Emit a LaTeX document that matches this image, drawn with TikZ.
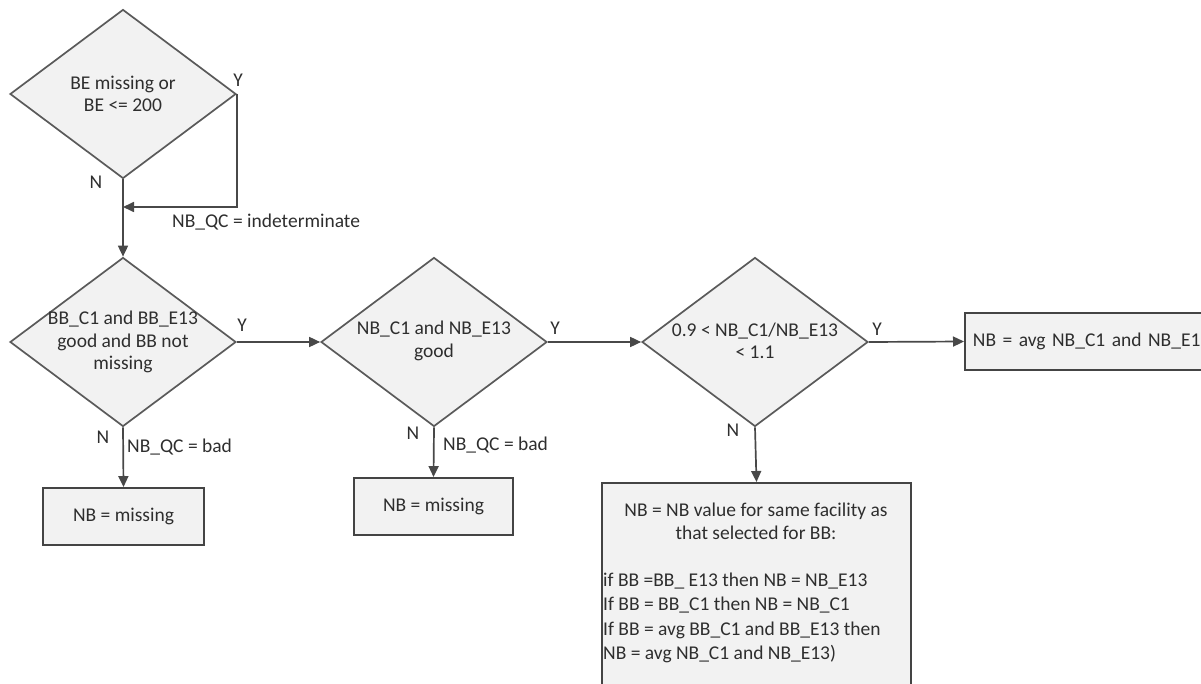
\documentclass[tikz,border=0pt]{standalone}
\usepackage{fontspec}
\setmainfont{Carlito}
\usetikzlibrary{shapes.geometric,arrows.meta}
\definecolor{ln}{HTML}{5A5A5A}
\definecolor{fl}{HTML}{F2F2F2}
\definecolor{tx}{HTML}{2E2E2E}
\begin{document}
\begin{tikzpicture}[x=1pt,y=-1pt,
  every node/.style={font=\fontsize{19.5}{22.5}\selectfont, text=tx},
  dec/.style={shape=diamond, draw=ln, fill=fl, line width=1.7pt, minimum width=226pt, minimum height=169pt, inner sep=0pt},
  proc/.style={shape=rectangle, draw=ln!75!black, fill=fl, line width=1.9pt, inner sep=0pt},
  arr/.style={draw=ln!80!black, line width=1.7pt, -{Triangle[length=11pt,width=10pt]}},
  lbl/.style={inner sep=0pt}
]
\path[use as bounding box] (0,0) rectangle (1201,684);
\clip (0,0) rectangle (1201,684);

% decisions
\node[dec] (d1) at (123,94) {};
\node[align=center, inner sep=0pt] (t1) at (d1.center) {BE missing or\\BE <= 200};

\node[dec] (d2) at (123,342) {};
\node[align=center, inner sep=0pt] (t2) at (d2.center) {BB\_C1 and BB\_E13\\good and BB not\\missing};

\node[dec] (d3) at (434,342) {};
\node[align=center, inner sep=0pt] (t3) at (434,341) {NB\_C1 and NB\_E13\\good};

\node[dec] (d4) at (755,342) {};
\node[align=center, inner sep=0pt] (t4) at (755,341) {0.9 < NB\_C1/NB\_E13\\< 1.1};

% processes
\node[proc, minimum width=161pt, minimum height=57pt] (b1) at (123.5,516.5) {NB = missing};
\node[proc, minimum width=159pt, minimum height=57pt] (b2) at (433.5,506.5) {NB = missing};
\node[proc, anchor=west, minimum width=255pt, minimum height=57pt, text width=239pt, inner xsep=8pt, align=left] (b3) at (964,341.5) {NB = avg NB\_C1 and NB\_E1};
\node[proc, anchor=north, minimum width=309pt, minimum height=240pt] (b4) at (756.5,482) {};
\node[align=center, inner sep=0pt, anchor=north] (t5) at (756,503) {NB = NB value for same facility as\\that selected for BB:};
\node[align=left, inner sep=0pt, anchor=north west, font=\fontsize{19.5}{24.2}\selectfont] (t6) at (603,573) {if BB =BB\_ E13 then NB = NB\_E13\\If BB = BB\_C1 then NB = NB\_C1\\If BB = avg BB\_C1 and BB\_E13 then\\NB = avg NB\_C1 and NB\_E13)};

% connectors
\coordinate (j1) at (123,207);
\draw[arr] (d1.east) |- (j1);
\draw[arr] (d1.south) -- (d2.north);
\draw[arr] (d2.east) -- (d3.west);
\draw[arr] (d2.south) -- (b1.north);
\draw[arr] (d3.east) -- (d4.west);
\draw[arr] (d3.south) -- (b2.north);
\draw[arr] (d4.east) -- (b3.west);
\draw[arr] (d4.south) -- (b4.north);

% labels
\node[lbl] (y1) at (238,80) {Y};
\node[lbl] (n1) at (96,182) {N};
\node[lbl, anchor=west] (q1) at (172,222) {NB\_QC = indeterminate};
\node[lbl] (y2) at (242,325) {Y};
\node[lbl] (n2) at (103,437) {N};
\node[lbl, anchor=west] (q2) at (127,447) {NB\_QC = bad};
\node[lbl] (y3) at (555,328) {Y};
\node[lbl] (n3) at (413,433) {N};
\node[lbl, anchor=west] (q3) at (443,445) {NB\_QC = bad};
\node[lbl] (y4) at (877,329) {Y};
\node[lbl] (n4) at (733,430) {N};
\end{tikzpicture}
\end{document}
